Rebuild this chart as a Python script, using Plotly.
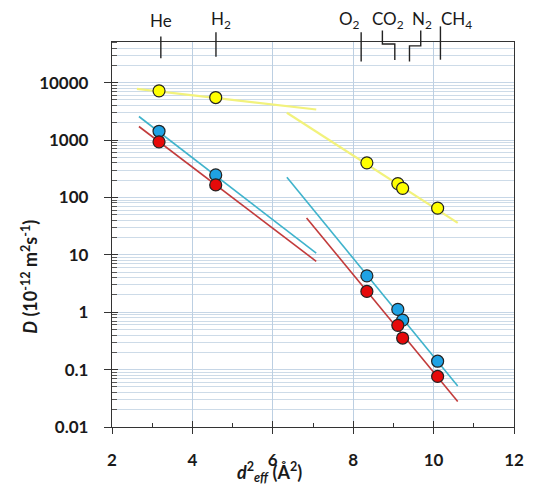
import plotly.graph_objects as go

# Squared effective kinetic diameters (Å^2) of the probe gases
gases = ["He", "H2", "O2", "CO2", "N2", "CH4"]
d2_eff = [3.17, 4.58, 8.34, 9.11, 9.23, 10.10]

# Diffusion coefficients D (1e-12 m^2/s) for the three membranes
D_yellow = [7200, 5500, 400, 174, 144, 65]
D_blue = [1420, 247, 4.3, 1.12, 0.73, 0.14]
D_red = [930, 165, 2.3, 0.59, 0.355, 0.076]

# Trend lines (two segments per series): x end points and D end points
yellow_fit_x = [[2.62, 7.08], [6.35, 10.60]]
yellow_fit_D = [[7800, 3400], [2990, 36]]
blue_fit_x = [[2.67, 7.08], [6.35, 10.60]]
blue_fit_D = [[2570, 10.7], [224, 0.052]]
red_fit_x = [[2.67, 7.08], [6.84, 10.60]]
red_fit_D = [[1720, 7.7], [43.9, 0.0277]]

# Gas labels along the top edge
gas_labels = ["He", "H<sub>2</sub>", "O<sub>2</sub>", "CO<sub>2</sub>", "N<sub>2</sub>", "CH<sub>4</sub>"]
label_x = [3.21, 4.70, 7.92, 8.87, 9.72, 10.57]
# connector paths: (top x, bottom x) for each gas marker line
marker_top_x = [3.215, 4.586, 8.198, 8.726, 9.68, 10.17]
marker_bot_x = [3.215, 4.586, 8.198, 9.035, 9.40, 10.17]
marker_top_y = [1.0146, 1.0255, 1.0255, 1.030, 1.030, 1.0406]
marker_bot_y = [0.958, 0.962, 0.9495, 0.953, 0.9495, 0.954]
marker_bend_y = [None, None, None, 0.9948, 0.990, None]

x_ticks = [2, 4, 6, 8, 10, 12]
y_ticks = [0.01, 0.1, 1, 10, 100, 1000, 10000]
y_ticktext = ["0.01", "0.1", "1", "10", "100", "1000", "10000"]
y_minor = [m * 10 ** e for e in range(-2, 5) for m in range(2, 10)]

YELLOW_LINE = "#f2f27c"
BLUE_LINE = "#3fb3cc"
RED_LINE = "#c23b3b"
FONT = "Lato"

fig = go.Figure()

for xs, ys in zip(yellow_fit_x, yellow_fit_D):
    fig.add_trace(go.Scatter(x=xs, y=ys, mode="lines", line=dict(color=YELLOW_LINE, width=2.2), hoverinfo="skip"))
for xs, ys in zip(blue_fit_x, blue_fit_D):
    fig.add_trace(go.Scatter(x=xs, y=ys, mode="lines", line=dict(color=BLUE_LINE, width=1.6), hoverinfo="skip"))
for xs, ys in zip(red_fit_x, red_fit_D):
    fig.add_trace(go.Scatter(x=xs, y=ys, mode="lines", line=dict(color=RED_LINE, width=1.6), hoverinfo="skip"))

for vals, col in [(D_yellow, "#ffff00"), (D_blue, "#1fa2e4"), (D_red, "#e60a0a")]:
    fig.add_trace(go.Scatter(
        x=d2_eff, y=vals, mode="markers", text=gases,
        marker=dict(size=12, color=col, line=dict(color="#222222", width=1.2)),
    ))

# invisible trace that activates the overlay axes carrying inward tick halves
fig.add_trace(go.Scatter(x=[2], y=[1], xaxis="x2", yaxis="y2", mode="markers",
                         marker=dict(opacity=0), hoverinfo="skip"))

tick_font = dict(family=FONT, size=17, color="#1a1a1a", weight="bold")

fig.update_layout(
    width=535, height=488,
    margin=dict(l=112.3, r=11.3, t=42.3, b=61.3),
    paper_bgcolor="white", plot_bgcolor="white",
    showlegend=False,
    font=dict(family=FONT, color="#1a1a1a"),
    xaxis=dict(
        range=[2, 12], tickvals=x_ticks, ticks="outside", ticklen=6, tickwidth=1.2,
        tickcolor="#333333", showline=True, linecolor="#333333", linewidth=1.3, mirror=True,
        showgrid=True, gridcolor="#bccfe2", gridwidth=1, zeroline=False,
        tickfont=tick_font, ticklabelstandoff=11,
        minor=dict(tickvals=[3, 5, 7, 9, 11], ticks="inside", ticklen=4, tickcolor="#333333", showgrid=False),
    ),
    yaxis=dict(
        type="log", range=[-2, 4.708], tickvals=y_ticks, ticktext=y_ticktext,
        ticks="outside", ticklen=7, tickwidth=1.2, tickcolor="#333333",
        showline=True, linecolor="#333333", linewidth=1.3, mirror=True,
        showgrid=True, gridcolor="#c6d6e6", gridwidth=1, zeroline=False,
        tickfont=tick_font, ticklabelstandoff=12,
        minor=dict(tickvals=y_minor, ticks="inside", ticklen=5, tickcolor="#555555",
                   showgrid=True, gridcolor="#cddbe8", gridwidth=1),
    ),
    xaxis2=dict(
        overlaying="x", anchor="y", side="bottom", range=[2, 12], tickvals=x_ticks,
        ticks="inside", ticklen=6, tickwidth=1.2, tickcolor="#333333",
        showticklabels=False, showgrid=False, showline=False, zeroline=False,
    ),
    yaxis2=dict(
        overlaying="y", anchor="x", side="left", type="log", range=[-2, 4.708], tickvals=y_ticks,
        ticks="inside", ticklen=6, tickwidth=1.2, tickcolor="#333333",
        showticklabels=False, showgrid=False, showline=False, zeroline=False,
    ),
)

# gas marker lines at the top edge
for tx, bx, ty, by, my in zip(marker_top_x, marker_bot_x, marker_top_y, marker_bot_y, marker_bend_y):
    if my is None:
        path = f"M {tx} {ty} L {bx} {by}"
    else:
        path = f"M {tx} {ty} L {tx} {my} L {bx} {my} L {bx} {by}"
    fig.add_shape(type="path", path=path, xref="x", yref="paper",
                  line=dict(color="#222222", width=1.4))

for lab, lx in zip(gas_labels, label_x):
    fig.add_annotation(text=lab, x=lx, y=1, xref="x", yref="paper", yanchor="middle",
                       yshift=22, showarrow=False, font=dict(family=FONT, size=17, color="#1a1a1a"))

# axis titles
fig.add_annotation(
    text="<i>d</i><sup>2</sup><sub><i>eff</i></sub> (Å<sup>2</sup>)",
    x=(273 - 112.3) / 411.4, y=0, xref="paper", yref="paper", yanchor="middle", yshift=-45,
    showarrow=False, font=dict(family=FONT, size=18, color="#1a1a1a", weight="bold"),
)
fig.add_annotation(
    text="<i>D</i> (10<sup>-12</sup> m<sup>2</sup>s<sup>-1</sup>)",
    x=(28 - 112.3) / 411.4, y=1 - (277 - 42.3) / 384.4, xref="paper", yref="paper",
    textangle=-90, showarrow=False, xanchor="center", yanchor="middle",
    font=dict(family=FONT, size=18, color="#1a1a1a", weight="bold"),
)

fig.write_html("out.html")
